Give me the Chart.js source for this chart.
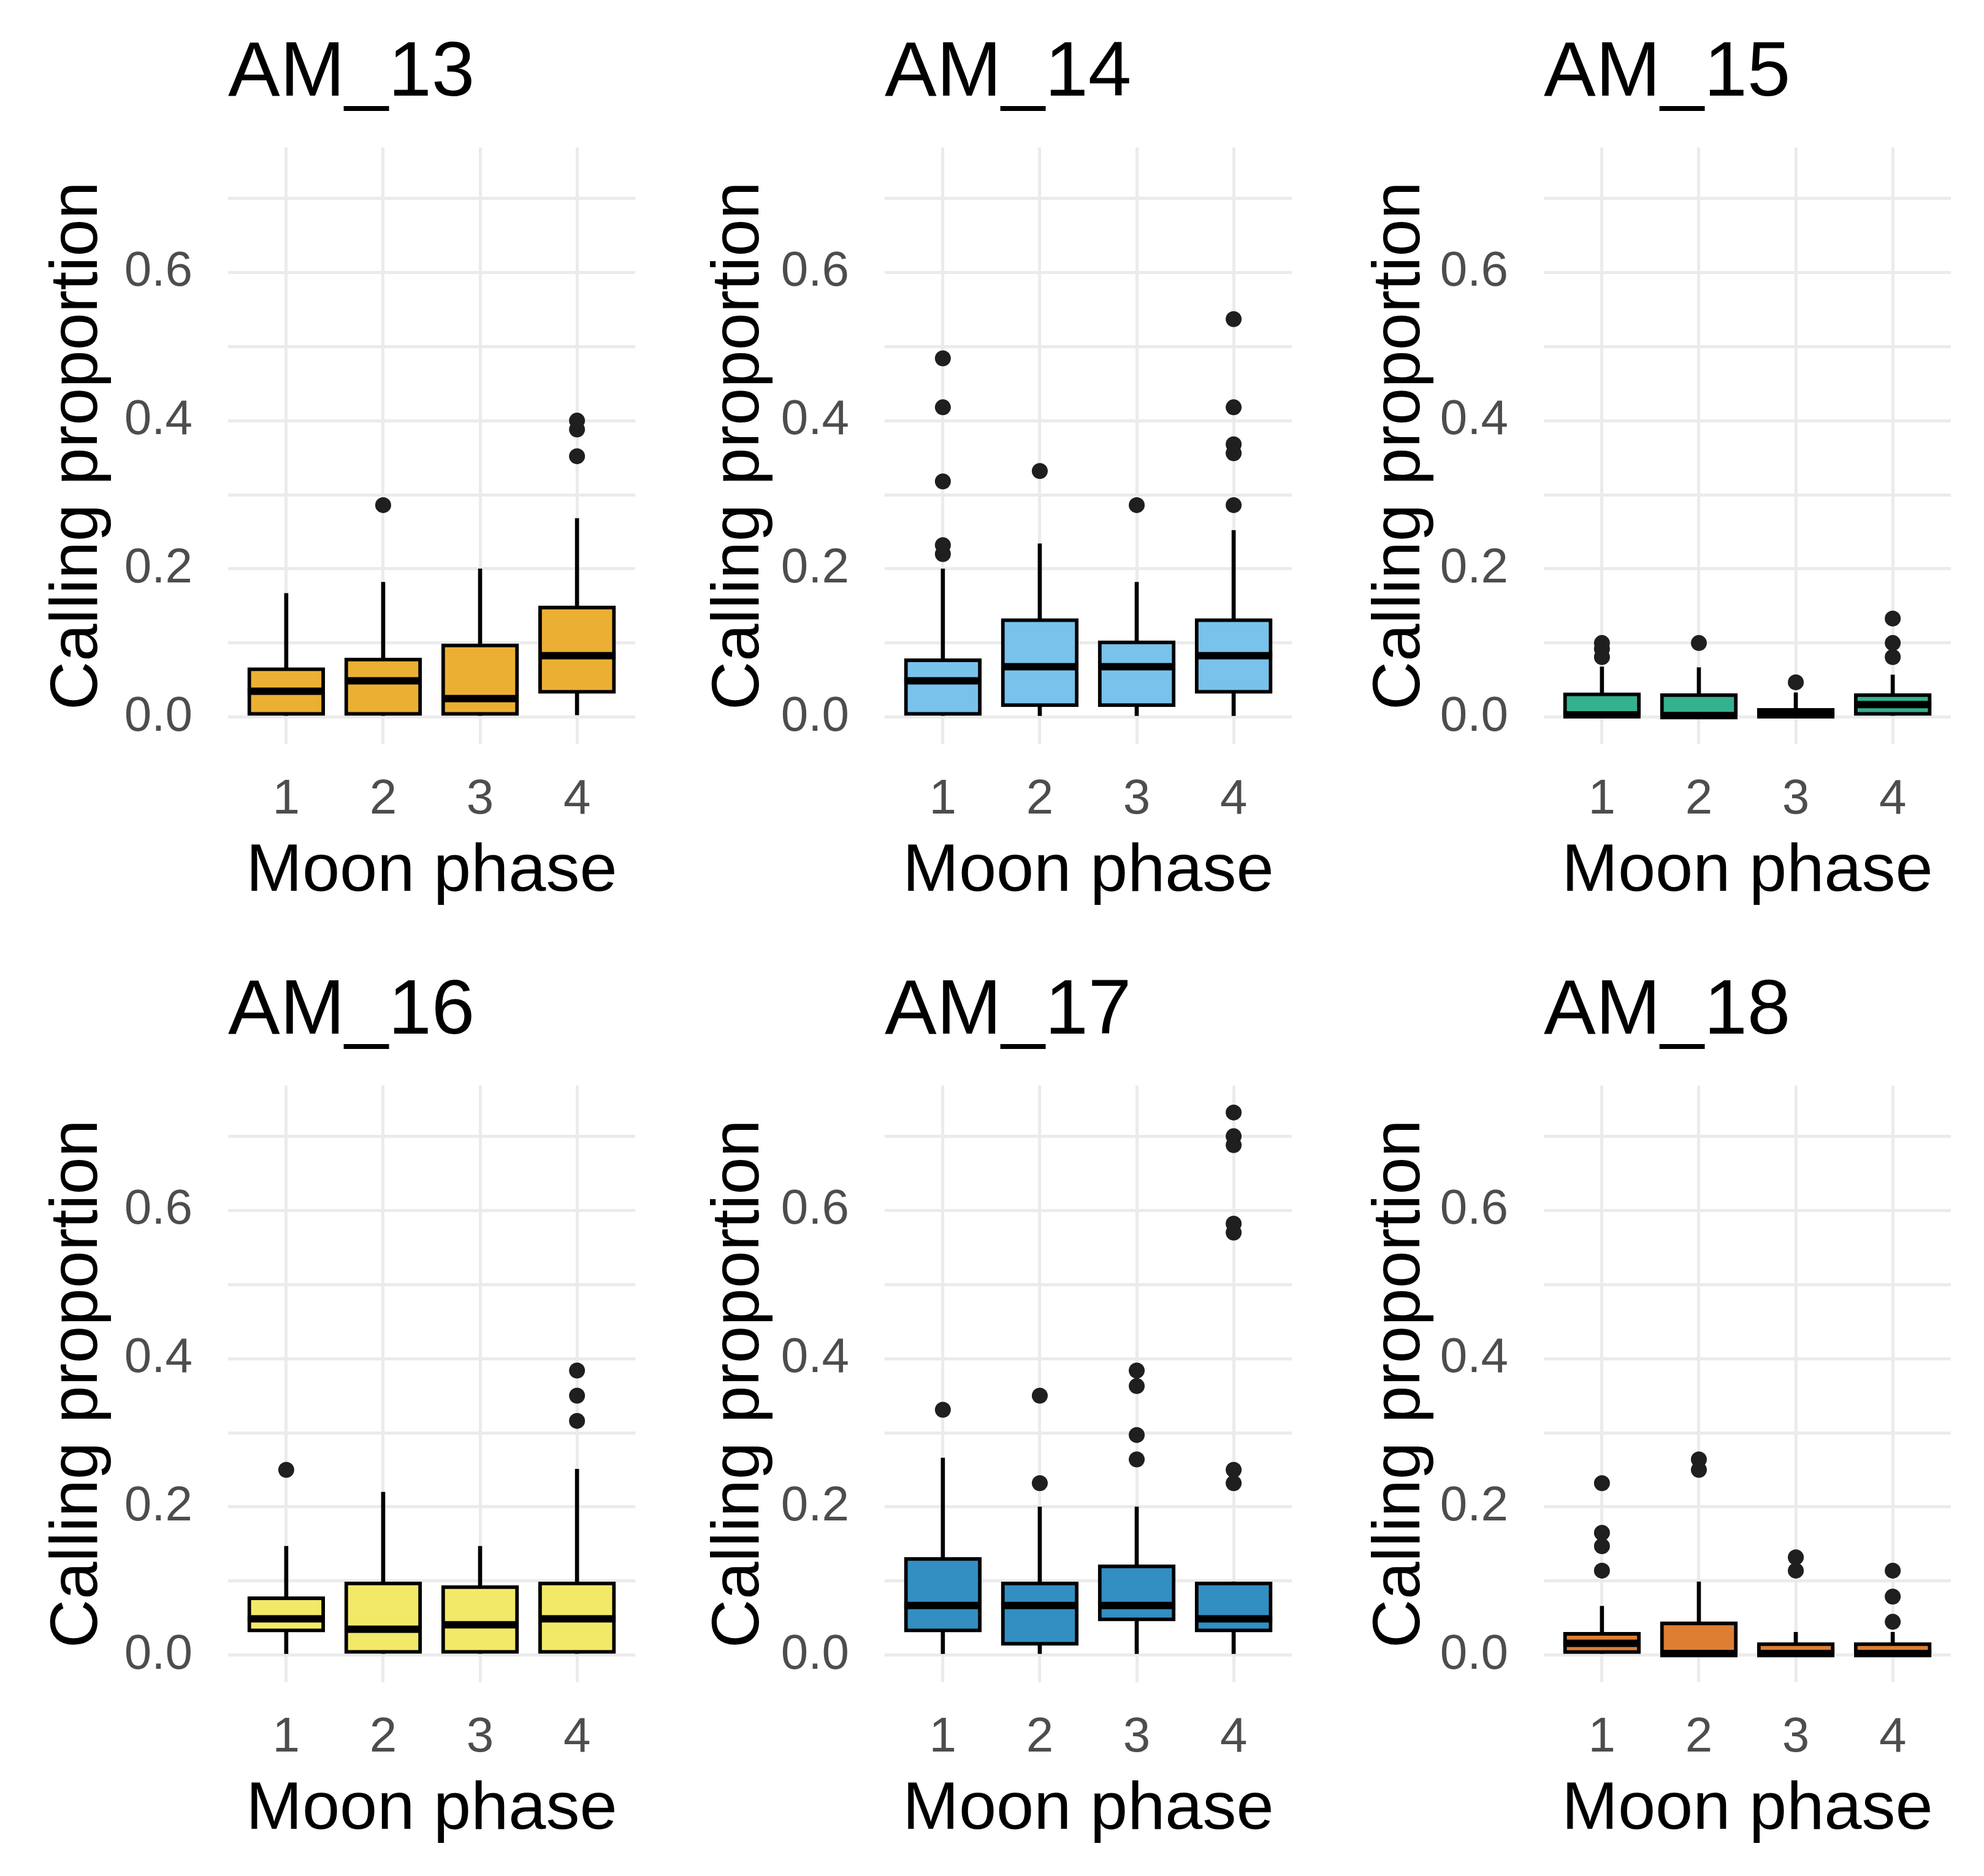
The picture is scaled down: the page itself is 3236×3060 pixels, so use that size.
<!DOCTYPE html>
<html>
<head>
<meta charset="utf-8">
<script src="https://cdn.jsdelivr.net/npm/chart.js@4.4.1/dist/chart.umd.min.js"></script>
<style>
  body { margin: 0; background: #fff; }
  #grid { position: relative; width: 3236px; height: 3060px; }
  #grid canvas { position: absolute; }
</style>
</head>
<body>
<div id="grid"></div>
<script>
// data, one row per site, one column per moon phase
const sites = ['AM_13', 'AM_14', 'AM_15', 'AM_16', 'AM_17', 'AM_18'];
const phases = [1, 2, 3, 4];
const yTicks = [0, 0.1, 0.2, 0.3, 0.4, 0.5, 0.6, 0.7];
const yTickLabels = ['0.0', '', '0.2', '', '0.4', '', '0.6', ''];

const whiskerLow = [
  [0, 0, 0, 0.003],
  [0, 0.002, 0.002, 0.002],
  [0, 0, 0, 0],
  [0.002, 0, 0, 0],
  [0.002, 0.002, 0.002, 0.002],
  [0, 0, 0, 0]
];
const q1 = [
  [0, 0, 0, 0.032],
  [0, 0.014, 0.014, 0.032],
  [0, 0, 0, 0],
  [0.031, 0, 0, 0],
  [0.031, 0.013, 0.046, 0.031],
  [0.002, 0, 0, 0]
];
const medians = [
  [0.035, 0.049, 0.025, 0.083],
  [0.049, 0.068, 0.068, 0.083],
  [0.003, 0.002, 0.003, 0.017],
  [0.049, 0.035, 0.041, 0.049],
  [0.067, 0.067, 0.067, 0.049],
  [0.016, 0.002, 0.002, 0.002]
];
const q3 = [
  [0.067, 0.080, 0.099, 0.150],
  [0.079, 0.133, 0.103, 0.133],
  [0.033, 0.032, 0.012, 0.032],
  [0.079, 0.099, 0.094, 0.099],
  [0.132, 0.099, 0.122, 0.099],
  [0.031, 0.045, 0.017, 0.017]
];
const whiskerHigh = [
  [0.167, 0.182, 0.200, 0.268],
  [0.200, 0.234, 0.182, 0.252],
  [0.068, 0.067, 0.033, 0.057],
  [0.147, 0.220, 0.147, 0.251],
  [0.266, 0.200, 0.200, 0.099],
  [0.066, 0.099, 0.031, 0.031]
];
const outliers = [
  [[], [0.286], [], [0.400, 0.388, 0.352]],
  [[0.484, 0.418, 0.318, 0.232, 0.220], [0.332], [0.286], [0.537, 0.418, 0.368, 0.356, 0.286]],
  [[0.100, 0.092, 0.081], [0.100], [0.047], [0.133, 0.100, 0.081]],
  [[0.250], [], [], [0.384, 0.350, 0.316]],
  [[0.331], [0.350, 0.232], [0.384, 0.363, 0.297, 0.264], [0.732, 0.700, 0.688, 0.582, 0.570, 0.250, 0.232]],
  [[0.232, 0.165, 0.147, 0.114], [0.264, 0.250], [0.132, 0.114], [0.114, 0.079, 0.045]]
];

const fills = ['#EBB033', '#78C2EC', '#34B18F', '#F3E968', '#338EC1', '#DD7E33'];

// layout of the 3 x 2 grid
const cellX = [0, 1079, 2157];
const cellW = [1079, 1078, 1079];
const axisW = [372, 364, 361];
const plotW = 664;
const rowH = 1530;

Chart.defaults.font.family = '"Liberation Sans", Arial, sans-serif';

function drawPanel(i) {
  const col = i % 3;
  const row = Math.floor(i / 3);

  const canvas = document.createElement('canvas');
  canvas.width = cellW[col];
  canvas.height = rowH;
  canvas.style.left = cellX[col] + 'px';
  canvas.style.top = (row * rowH) + 'px';
  document.getElementById('grid').appendChild(canvas);

  const outlierPoints = [];
  outliers[i].forEach((list, j) => {
    list.forEach(v => outlierPoints.push({ x: phases[j], y: v }));
  });

  return new Chart(canvas, {
    type: 'bar',
    data: {
      datasets: [
        {
          type: 'line',
          data: outlierPoints,
          showLine: false,
          pointRadius: 13,
          pointBackgroundColor: '#1f1f1f',
          pointBorderWidth: 0,
          order: 0
        },
        {
          type: 'line',
          data: phases.map((p, j) => ({ x: p, y: medians[i][j] })),
          showLine: false,
          pointStyle: 'line',
          pointRadius: 63,
          pointBorderColor: '#000',
          pointBorderWidth: 12,
          order: 1
        },
        {
          data: phases.map((p, j) => ({ x: p, y: [q1[i][j], q3[i][j]] })),
          backgroundColor: fills[i],
          borderColor: '#000',
          borderWidth: 6,
          borderSkipped: false,
          barThickness: 126,
          grouped: false,
          order: 2
        },
        {
          data: phases.map((p, j) => ({ x: p, y: [whiskerLow[i][j], whiskerHigh[i][j]] })),
          backgroundColor: '#000',
          borderWidth: 0,
          barThickness: 6,
          grouped: false,
          order: 3
        }
      ]
    },
    options: {
      responsive: false,
      animation: false,
      devicePixelRatio: 1,
      events: [],
      layout: {
        autoPadding: false,
        padding: { left: 0, right: cellW[col] - axisW[col] - plotW, top: 0, bottom: 41 }
      },
      plugins: {
        legend: { display: false },
        tooltip: { enabled: false },
        title: {
          display: true,
          text: sites[i],
          align: 'start',
          fullSize: false,
          color: '#000',
          font: { size: 127, weight: 'normal' },
          padding: { top: 45, bottom: 43 }
        }
      },
      scales: {
        x: {
          type: 'linear',
          min: 0.4,
          max: 4.6,
          offset: false,
          afterBuildTicks: s => { s.ticks = phases.map(v => ({ value: v })); },
          afterFit: s => {
            s.height = 275;
            s.paddingLeft = 0;
            s.paddingRight = 0;
          },
          border: { display: false },
          grid: { offset: false, color: '#EBEBEB', lineWidth: 5, drawTicks: false },
          ticks: {
            padding: 43,
            color: '#4D4D4D',
            font: { size: 80 },
            autoSkip: false,
            maxRotation: 0
          },
          title: {
            display: true,
            text: 'Moon phase',
            color: '#000',
            font: { size: 110 },
            padding: { top: 0, bottom: 0 }
          }
        },
        y: {
          min: -0.0366,
          max: 0.7686,
          afterBuildTicks: s => { s.ticks = yTicks.map(v => ({ value: v })); },
          afterFit: s => {
            s.width = axisW[col];
            s.paddingTop = 0;
            s.paddingBottom = 0;
          },
          border: { display: false },
          grid: { color: '#EBEBEB', lineWidth: 5, drawTicks: false },
          ticks: {
            padding: 58,
            color: '#4D4D4D',
            font: { size: 80 },
            autoSkip: false,
            callback: (v, idx) => yTickLabels[idx]
          },
          title: {
            display: true,
            text: 'Calling proportion',
            color: '#000',
            font: { size: 110 },
            padding: { top: 62, bottom: 0 }
          }
        }
      }
    }
  });
}

sites.forEach((s, i) => drawPanel(i));
</script>
</body>
</html>
